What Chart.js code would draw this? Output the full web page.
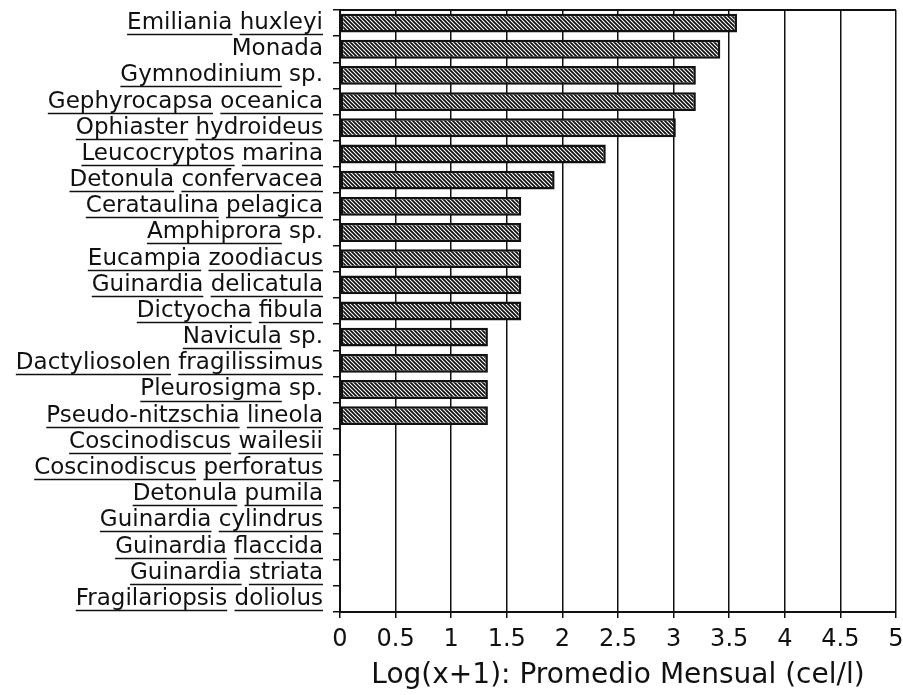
<!DOCTYPE html>
<html>
<head>
<meta charset="utf-8">
<script src="https://cdn.jsdelivr.net/npm/chart.js@4.4.0/dist/chart.umd.min.js"></script>
<style>
  html, body { margin: 0; padding: 0; background: #fff; }
  #caja { width: 903px; height: 695px; }
</style>
</head>
<body>
<div id="caja"><canvas id="grafico"></canvas></div>
<script>
const especies = [
  'Emiliania huxleyi', 'Monada', 'Gymnodinium sp.', 'Gephyrocapsa oceanica',
  'Ophiaster hydroideus', 'Leucocryptos marina', 'Detonula confervacea',
  'Cerataulina pelagica', 'Amphiprora sp.', 'Eucampia zoodiacus',
  'Guinardia delicatula', 'Dictyocha fibula', 'Navicula sp.',
  'Dactyliosolen fragilissimus', 'Pleurosigma sp.', 'Pseudo-nitzschia lineola',
  'Coscinodiscus wailesii', 'Coscinodiscus perforatus', 'Detonula pumila',
  'Guinardia cylindrus', 'Guinardia flaccida', 'Guinardia striata',
  'Fragilariopsis doliolus'
];
const valores = [
  3.57, 3.42, 3.2, 3.2, 3.02, 2.39, 1.93,
  1.63, 1.63, 1.63, 1.63, 1.63,
  1.33, 1.33, 1.33, 1.33,
  0, 0, 0, 0, 0, 0, 0
];
const marcasX = [0, 0.5, 1, 1.5, 2, 2.5, 3, 3.5, 4, 4.5, 5];
const sinSubrayar = ['sp.', 'Monada'];

const fuente = 'DejaVu Sans';
const tamEtiqueta = 23;

const ctx = document.getElementById('grafico').getContext('2d');

function crearTrama() {
  const c = document.createElement('canvas');
  c.width = 4; c.height = 4;
  const g = c.getContext('2d');
  g.fillStyle = '#fff';
  g.fillRect(0, 0, 4, 4);
  g.strokeStyle = '#111';
  g.lineWidth = 1.8;
  g.beginPath();
  g.moveTo(-1, -1); g.lineTo(5, 5);
  g.moveTo(-1, 3); g.lineTo(1, 5);
  g.moveTo(3, -1); g.lineTo(5, 1);
  g.stroke();
  return ctx.createPattern(c, 'repeat');
}

const subrayado = {
  id: 'subrayado',
  afterDraw(chart) {
    const c = chart.ctx;
    const ey = chart.scales.y;
    const area = chart.chartArea;
    const xDer = ey.right - 7 - 10;
    c.save();
    c.font = tamEtiqueta + 'px "' + fuente + '"';
    c.strokeStyle = '#111';
    c.lineWidth = 1.5;
    const espacio = c.measureText(' ').width;
    especies.forEach((nombre, i) => {
      const yc = Math.round(ey.getPixelForValue(i) + 11) + 0.5;
      let x = xDer - c.measureText(nombre).width;
      nombre.split(' ').forEach(p => {
        const w = c.measureText(p).width;
        if (!sinSubrayar.includes(p)) {
          c.beginPath();
          c.moveTo(x, yc);
          c.lineTo(x + w, yc);
          c.stroke();
        }
        x += w + espacio;
      });
    });
    // marco superior
    c.lineWidth = 2;
    c.beginPath();
    c.moveTo(area.left, area.top);
    c.lineTo(area.right, area.top);
    c.stroke();
    c.restore();
  }
};

new Chart(ctx, {
  type: 'bar',
  data: {
    labels: especies,
    datasets: [{
      data: valores,
      backgroundColor: crearTrama(),
      borderColor: '#111',
      borderWidth: 2.5,
      borderSkipped: false,
      categoryPercentage: 1,
      barPercentage: 0.72
    }]
  },
  options: {
    indexAxis: 'y',
    responsive: true,
    maintainAspectRatio: false,
    animation: false,
    layout: { padding: { top: 10, right: 7, left: 0, bottom: 2 } },
    plugins: {
      legend: { display: false },
      tooltip: { enabled: false }
    },
    scales: {
      x: {
        min: 0,
        max: 5,
        afterBuildTicks: s => { s.ticks = marcasX.map(v => ({ value: v })); },
        afterFit: s => { s.height = 81; s.paddingLeft = 0; s.paddingRight = 0; },
        border: { color: '#111', width: 2 },
        grid: { color: '#111', lineWidth: 1.5, tickLength: 6 },
        ticks: {
          color: '#111',
          padding: 7,
          maxRotation: 0,
          autoSkip: false,
          font: { family: fuente, size: 24 },
          callback: v => String(v)
        },
        title: {
          display: true,
          text: 'Log(x+1): Promedio Mensual (cel/l)',
          color: '#111',
          padding: { top: 0, bottom: 0 },
          font: { family: fuente, size: 28 }
        }
      },
      y: {
        afterFit: s => { s.width = 340; s.paddingTop = 0; s.paddingBottom = 0; },
        border: { color: '#111', width: 2 },
        grid: { drawOnChartArea: false, color: '#111', lineWidth: 1.5, tickLength: 7 },
        ticks: {
          color: '#111',
          padding: 10,
          autoSkip: false,
          font: { family: fuente, size: tamEtiqueta }
        }
      }
    }
  },
  plugins: [subrayado]
});
</script>
</body>
</html>
